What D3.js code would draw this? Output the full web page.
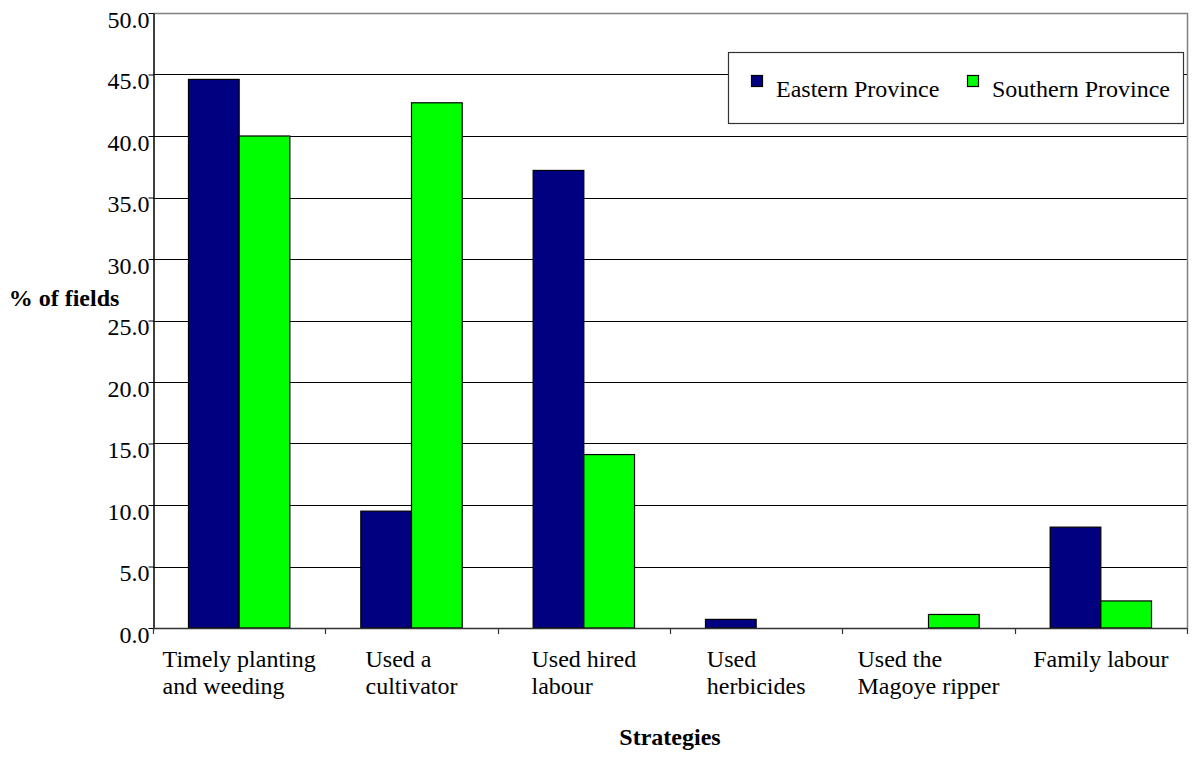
<!DOCTYPE html>
<html>
<head>
<meta charset="utf-8">
<script src="https://cdn.jsdelivr.net/npm/d3@7/dist/d3.min.js"></script>
<style>
  html, body { margin: 0; padding: 0; background: #fff; }
  svg { display: block; }
  text { font-family: "Liberation Serif", "Times New Roman", serif; fill: #000; }
</style>
</head>
<body>
<svg id="chart" width="1196" height="776"></svg>
<script>
// Strategies used, share of fields per province
const strategies = [
  ["Timely planting", "and weeding"],
  ["Used a", "cultivator"],
  ["Used hired", "labour"],
  ["Used", "herbicides"],
  ["Used the", "Magoye ripper"],
  ["Family labour"]
];
const seriesNames = ["Eastern Province", "Southern Province"];
const eastern  = [44.6, 9.5, 37.2, 0.7, 0.0, 8.2];
const southern = [40.0, 42.7, 14.1, 0.0, 1.1, 2.2];
const yTicks = [0, 5, 10, 15, 20, 25, 30, 35, 40, 45, 50];
const seriesColors = ["#000080", "#00ff00"];

const svg = d3.select("#chart");
const fontSize = 24;
const fontFamily = "'Liberation Serif', 'Times New Roman', serif";

const plot = { left: 153, right: 1187, top: 13, bottom: 628 };

const keys = strategies.map(d => d.join(" "));
const x = d3.scaleBand().domain(keys).range([plot.left, plot.right]).padding(0);
const y = d3.scaleLinear().domain([0, 50]).range([plot.bottom, plot.top]);
const sub = d3.scaleBand().domain(seriesNames)
  .range([0, x.bandwidth()]).paddingInner(0).paddingOuter(0.7);

// horizontal gridlines
svg.append("g")
  .selectAll("line")
  .data(yTicks.filter(t => t > 0 && t < 50))
  .join("line")
  .attr("x1", plot.left).attr("x2", plot.right)
  .attr("y1", d => Math.round(y(d)) + 0.5).attr("y2", d => Math.round(y(d)) + 0.5)
  .attr("stroke", "#000").attr("stroke-width", 1);

// plot frame (top and right)
svg.append("path")
  .attr("d", `M${plot.left},${plot.top + 0.5}H${plot.right + 0.5}V${plot.bottom}`)
  .attr("fill", "none").attr("stroke", "#808080").attr("stroke-width", 1.5);

// bars
const rows = keys.map((k, i) => ({ key: k, values: [eastern[i], southern[i]] }));
const groups = svg.append("g").selectAll("g")
  .data(rows).join("g")
  .attr("transform", d => `translate(${x(d.key)},0)`);
groups.selectAll("rect")
  .data(d => d.values.map((v, j) => ({ name: seriesNames[j], value: v, color: seriesColors[j] })).filter(e => e.value > 0))
  .join("rect")
  .attr("x", d => sub(d.name))
  .attr("width", sub.bandwidth())
  .attr("y", d => y(d.value))
  .attr("height", d => y(0) - y(d.value))
  .attr("fill", d => d.color)
  .attr("stroke", "#000").attr("stroke-width", 1.2);

// y axis
const yAxis = d3.axisLeft(y).tickValues(yTicks).tickSize(5).tickSizeOuter(0)
  .tickFormat(d3.format(".1f"));
const gy = svg.append("g").attr("transform", `translate(${plot.left + 0.5},0)`).call(yAxis);
gy.attr("font-family", fontFamily).attr("font-size", fontSize);
gy.select(".domain").attr("stroke", "#000").attr("stroke-width", 1.5);
gy.selectAll(".tick line").attr("stroke", "#000");
gy.selectAll(".tick text")
  .attr("x", -4).attr("dy", null).attr("y", 14)
  .attr("fill", "#000");

// x axis line with boundary ticks
const boundaries = keys.map(k => x(k)).concat([plot.right]);
svg.append("line")
  .attr("x1", plot.left).attr("x2", plot.right)
  .attr("y1", plot.bottom + 0.5).attr("y2", plot.bottom + 0.5)
  .attr("stroke", "#333").attr("stroke-width", 1.5);
svg.append("g").selectAll("line")
  .data(boundaries).join("line")
  .attr("x1", d => Math.round(d) + 0.5).attr("x2", d => Math.round(d) + 0.5)
  .attr("y1", plot.bottom).attr("y2", plot.bottom + 6)
  .attr("stroke", "#333").attr("stroke-width", 1.2);

// category labels: left-aligned lines, block centred under each category
const labelTop = 667, lineGap = 27;
keys.forEach((k, i) => {
  const g = svg.append("g");
  const t = g.selectAll("text").data(strategies[i]).join("text")
    .attr("font-size", fontSize)
    .attr("y", (d, j) => labelTop + j * lineGap)
    .text(d => d);
  const w = d3.max(t.nodes(), n => n.getComputedTextLength());
  t.attr("x", x(k) + x.bandwidth() / 2 - w / 2);
});

// axis titles
svg.append("text")
  .attr("x", (plot.left + plot.right) / 2).attr("y", 745)
  .attr("text-anchor", "middle").attr("font-weight", "bold")
  .attr("font-size", fontSize).text("Strategies");
svg.append("text")
  .attr("x", 64).attr("y", 306)
  .attr("text-anchor", "middle").attr("font-weight", "bold")
  .attr("font-size", fontSize).text("% of fields");

// legend
const legend = svg.append("g");
legend.append("rect")
  .attr("x", 728.5).attr("y", 52.5).attr("width", 455).attr("height", 71)
  .attr("fill", "#fff").attr("stroke", "#333").attr("stroke-width", 1.2);
const legendX = [751, 967];
seriesNames.forEach((name, i) => {
  legend.append("rect")
    .attr("x", legendX[i] + 0.5).attr("y", 75.5).attr("width", 11).attr("height", 11)
    .attr("fill", seriesColors[i]).attr("stroke", "#000").attr("stroke-width", 1.2);
  legend.append("text")
    .attr("x", legendX[i] + 25).attr("y", 97)
    .attr("font-size", fontSize).text(name);
});
</script>
</body>
</html>
